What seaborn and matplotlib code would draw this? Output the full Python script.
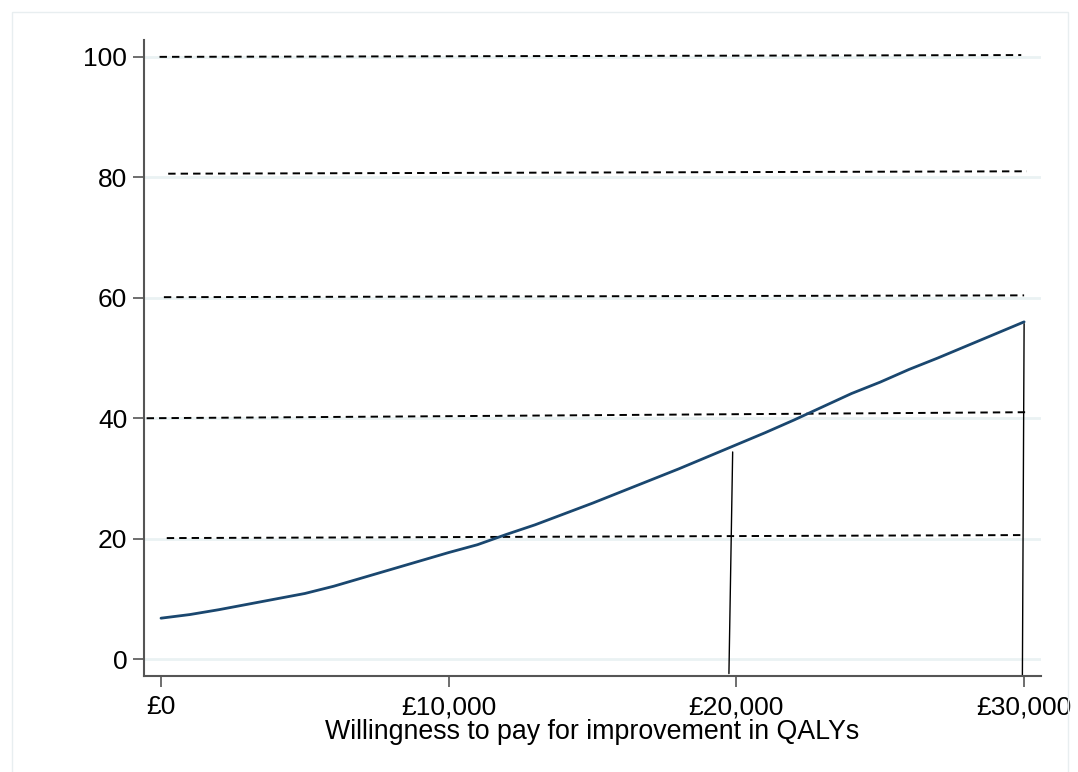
import numpy as np
import pandas as pd
import matplotlib
matplotlib.use("Agg")
import matplotlib.pyplot as plt
import seaborn as sns
from matplotlib.patches import Rectangle

# ---- data ----
wtp = [0, 1000, 2000, 3000, 4000, 5000, 6000, 7000, 8000, 9000, 10000,
       11000, 12000, 13000, 14000, 15000, 16000, 17000, 18000, 19000, 20000,
       21000, 22000, 23000, 24000, 25000, 26000, 27000, 28000, 29000, 30000]
prob = [6.8, 7.4, 8.2, 9.1, 10.0, 10.9, 12.1, 13.5, 14.9, 16.3, 17.7,
        19.0, 20.7, 22.3, 24.1, 25.9, 27.8, 29.7, 31.6, 33.6, 35.6,
        37.6, 39.7, 41.9, 44.1, 46.0, 48.1, 50.0, 52.0, 54.0, 56.0]

# horizontal dashed reference lines (x start, x end, y start, y end)
ref_x0 = [-50, 250, 100, -500, 200]
ref_x1 = [29900, 30100, 30000, 30100, 30000]
ref_y0 = [100.0, 80.6, 60.1, 40.0, 20.1]
ref_y1 = [100.3, 81.0, 60.4, 41.0, 20.6]

# vertical markers (x bottom, x top, y bottom, y top)
vx0 = [19740, 29940]
vx1 = [19870, 30000]
vy0 = [-2.4, -2.9]
vy1 = [34.4, 55.7]

yticks = [0, 20, 40, 60, 80, 100]
xticks = [0, 10000, 20000, 30000]
xticklabels = ["£0", "£10,000", "£20,000", "£30,000"]
xlabel = "Willingness to pay for improvement in QALYs"

sns.set_theme(style="white")
plt.rcParams['font.family'] = ['Liberation Sans', 'DejaVu Sans']

fig = plt.figure(figsize=(10.78, 7.72), dpi=100)
fig.patch.set_facecolor("white")
fig.patches.append(Rectangle((12 / 1078, -0.05), (1068 - 12) / 1078, 1.05 - 12 / 772,
                             transform=fig.transFigure, fill=False,
                             edgecolor="#e8eef0", linewidth=1.0))

ax = fig.add_axes([144 / 1078, 1 - 676 / 772, (1041 - 144) / 1078, (676 - 40) / 772])
ax.set_facecolor("white")

# gridlines
for yv in yticks:
    ax.axhline(yv, color="#eaf2f3", linewidth=2.0, zorder=0)

# dashed reference lines
for a, b, c, d in zip(ref_x0, ref_x1, ref_y0, ref_y1):
    ax.plot([a, b], [c, d], color="black", linewidth=1.4,
            dashes=(3.8, 2.6), zorder=2)

# vertical markers
for a, b, c, d in zip(vx0, vx1, vy0, vy1):
    ax.plot([a, b], [c, d], color="black", linewidth=1.0, zorder=2)

df = pd.DataFrame({"wtp": wtp, "prob": prob})
sns.lineplot(data=df, x="wtp", y="prob", ax=ax, color="#1a476f",
             linewidth=2.0, zorder=3)

ax.set_xlim(-591, 30587)
ax.set_ylim(-2.8, 102.8)
ax.set_yticks(yticks)
ax.set_yticklabels([str(v) for v in yticks])
ax.set_xticks(xticks)
ax.set_xticklabels(xticklabels)
ax.set_xlabel(xlabel, fontsize=19.3, color="black", labelpad=0)
ax.set_ylabel("")

for s in ["top", "right"]:
    ax.spines[s].set_visible(False)
for s in ["left", "bottom"]:
    ax.spines[s].set_color("#555555")
    ax.spines[s].set_linewidth(1.5)

ax.tick_params(axis="both", which="major", direction="out", length=8,
               width=1.2, color="#555555", labelsize=19, labelcolor="black",
               left=True, bottom=True)
ax.tick_params(axis="y", pad=4)
ax.tick_params(axis="x", pad=6)
ax.grid(False)

fig.savefig("out.png", dpi=100, facecolor="white")
